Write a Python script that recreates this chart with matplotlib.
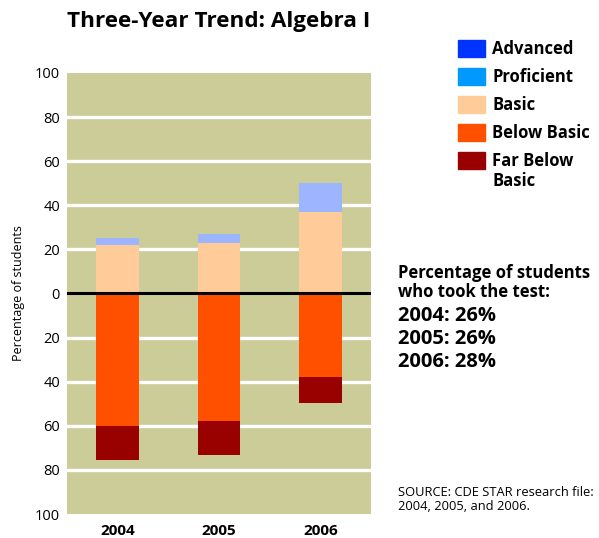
import numpy as np
import matplotlib
matplotlib.use('Agg')
import matplotlib.pyplot as plt
from matplotlib.patches import Patch

plt.rcParams['font.family'] = ['Open Sans', 'DejaVu Sans']

years = ['2004', '2005', '2006']
advanced = [0, 0, 0]
proficient = [3.3, 4.1, 13.2]
basic = [22, 23.1, 37]
below_basic = [60, 57.6, 38]
far_below_basic = [15.5, 15.6, 11.6]
tested = ['26%', '26%', '28%']

c_adv = '#0033FF'
c_prof_bar = '#9DB4FF'
c_prof_leg = '#0099FF'
c_basic = '#FFCC99'
c_below = '#FF5000'
c_far = '#990000'
bg = '#CCCC99'

fig = plt.figure(figsize=(5.99, 5.38), dpi=100)
ax = fig.add_axes([67/599, 1 - 514/538, 304/599, 441/538])
ax.set_facecolor(bg)

x = np.arange(len(years))
w = 0.42
basic = np.array(basic)
proficient = np.array(proficient)
below_basic = np.array(below_basic)
ax.bar(x, basic, w, color=c_basic, zorder=3)
ax.bar(x, proficient, w, bottom=basic, color=c_prof_bar, zorder=3)
ax.bar(x, advanced, w, bottom=basic + proficient, color=c_adv, zorder=3)
ax.bar(x, -below_basic, w, color=c_below, zorder=3)
ax.bar(x, -np.array(far_below_basic), w, bottom=-below_basic, color=c_far, zorder=3)

ticks = np.arange(-100, 101, 20)
for t in ticks:
    if t == 0:
        ax.axhline(0, color='black', lw=2.2, zorder=4)
    elif abs(t) < 100:
        ax.axhline(t, color='white', lw=2.4, zorder=1)

ax.set_xlim(-0.5, 2.5)
ax.set_ylim(-100, 100)
ax.set_yticks(ticks)
ax.set_yticklabels([str(abs(t)) for t in ticks], fontsize=10.5)
ax.set_xticks(x)
ax.set_xticklabels(years, fontsize=11, fontweight='bold')
ax.tick_params(length=0, pad=5)
ax.tick_params(axis='x', pad=7)
for s in ax.spines.values():
    s.set_visible(False)
ax.set_ylabel('Percentage of students', fontsize=9, labelpad=7)

fig.text(67/599, 1 - 21/538, 'Three-Year Trend: Algebra I', fontsize=16.2,
         fontweight='bold', va='center', ha='left')

# legend: proficient shown in the brighter legend blue, like the original
handles = [Patch(color=c_adv), Patch(color=c_prof_leg), Patch(color=c_basic),
           Patch(color=c_below), Patch(color=c_far)]
labels = ['Advanced', 'Proficient', 'Basic', 'Below Basic', 'Far Below']
fig.legend(handles, labels, loc='upper left', bbox_to_anchor=(458/599, 1 - 40/538),
           frameon=False, prop={'size': 12, 'weight': 'bold'},
           handlelength=1.62, handleheight=1.14, handletextpad=0.42,
           labelspacing=0.6, borderpad=0, borderaxespad=0)
fig.text(492/599, 1 - 181/538, 'Basic', fontsize=12, fontweight='bold', va='center')

fig.text(398/599, 1 - 273/538, 'Percentage of students', fontsize=12,
         fontweight='bold', va='center')
fig.text(398/599, 1 - 292/538, 'who took the test:', fontsize=12,
         fontweight='bold', va='center')
for i, (y, p) in enumerate(zip(years, tested)):
    fig.text(398/599, 1 - (316 + 23*i)/538, f'{y}: {p}', fontsize=14.5,
             fontweight='bold', va='center')

fig.text(398/599, 1 - 492/538, 'SOURCE: CDE STAR research file:', fontsize=9.3,
         va='center')
fig.text(398/599, 1 - 507/538, '2004, 2005, and 2006.', fontsize=9.3, va='center')

fig.savefig('out.png', dpi=100)
